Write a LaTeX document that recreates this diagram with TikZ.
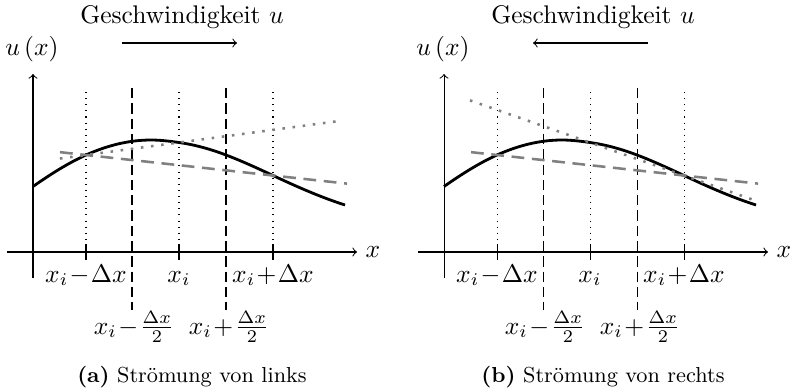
\documentclass[tikz,border=0pt]{standalone}
\usetikzlibrary{calc}
\begin{document}
\begin{tikzpicture}[x=0.392pt,y=-0.392pt,
  curve/.style={line width=1.1pt},
  central/.style={gray,line width=1pt,dash pattern=on 5pt off 3pt},
  upwind/.style={gray,line width=1pt,dash pattern=on 1pt off 3pt},
  grid dot/.style={dotted,line width=0.4pt},
  grid dash/.style={dash pattern=on 4pt off 2pt,line width=0.4pt},
  axis/.style={->,line width=0.4pt},
  lbl/.style={anchor=base,inner sep=0pt}]
\useasboundingbox (0,0) rectangle (795,391);

\foreach \off/\dir/\cap in {0/1/{\textbf{(a)} Strömung von links},411/2/{\textbf{(b)} Strömung von rechts}}{
\begin{scope}[shift={(\off,0)}]
  % reference points on the curve
  \coordinate (pm) at (86,155);
  \coordinate (pc) at (179,142.5);
  \coordinate (pp) at (273,175.5);
  % grid lines
  \foreach \xx in {86,179,273}{
    \draw[grid dot] (\xx,92) -- (\xx,252);
    \draw (\xx,244) -- (\xx,260);
  }
  \foreach \xx in {132,226}{
    \draw[grid dash] (\xx,88) -- (\xx,310);
  }
  % axes
  \coordinate (xs) at (7,252);
  \coordinate (xe) at (357,252);
  \coordinate (ys) at (33,278);
  \coordinate (ye) at (33,74);
  \draw[axis] (xs) -- (xe);
  \draw[axis] (ys) -- (ye);
  \node[lbl] (xl) at (373,257) {$x$};
  \node[lbl] (ul) at (32,55) {$u\left(x\right)$};
  % curve
  \draw[curve] (33,186.5)
     .. controls (50.667,174.13) and (68.333,162.95) .. (pm)
     .. controls (107.667,145.25) and (129.333,140) .. (151,140)
     .. controls (160.333,140) and (169.667,141.19) .. (pc)
     .. controls (194.667,144.69) and (210.333,149.05) .. (226,155)
     .. controls (241.667,160.95) and (257.333,168.14) .. (pp)
     .. controls (297,186.78) and (321,197.32) .. (345,205);
  % central difference
  \draw[central] ($(pm)!-0.139!(pp)$) -- ($(pm)!1.396!(pp)$);
  % upwind
  \ifnum\dir=1
    \draw[upwind] ($(pm)!-0.28!(pc)$) -- ($(pm)!2.75!(pc)$);
  \else
    \draw[upwind] ($(pc)!-1.277!(pp)$) -- ($(pc)!1.734!(pp)$);
  \fi
  % labels
  \node[lbl] (l1) at (86,282) {$x_i\!-\!\Delta x$};
  \node[lbl] (l2) at (179,282) {$x_i$};
  \node[lbl] (l3) at (273,282) {$x_i\!+\!\Delta x$};
  \node[lbl] (l4) at (134,334) {$x_i\!-\!\frac{\Delta x}{2}$};
  \node[lbl] (l5) at (229,334) {$x_i\!+\!\frac{\Delta x}{2}$};
  \node[lbl] (cap) at (192,382) {\fontsize{8.5}{10}\selectfont \cap};
  \node[lbl] (title) at (182,23) {Geschwindigkeit $u$};
  \ifnum\dir=1
    \coordinate (a1) at (122,43); \coordinate (a2) at (237,43);
  \else
    \coordinate (a1) at (237,43); \coordinate (a2) at (122,43);
  \fi
  \draw[->] (a1) -- (a2);
\end{scope}
}
\end{tikzpicture}
\end{document}
